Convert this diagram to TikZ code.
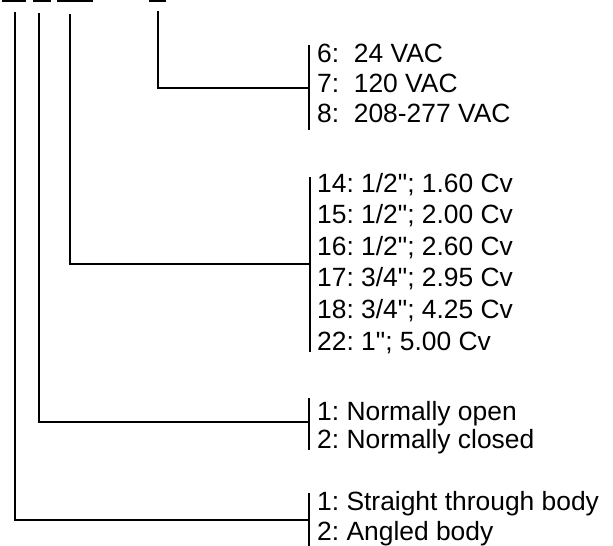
\documentclass[tikz,border=0pt]{standalone}
\usepackage{fontspec}
\setmainfont{Liberation Sans}
\frenchspacing
\newcommand{\inch}{\textquotedbl}
\begin{document}
\begin{tikzpicture}[x=1pt,y=-1pt,
  ln/.style={line width=2.5pt},
  lbl/.style={anchor=base west, inner sep=0pt, font=\fontsize{26.4}{30}\selectfont}]
\useasboundingbox (0,0) rectangle (613,546);
% top underlines
\draw[ln] (2,1) -- (26,1);
\draw[ln] (33,1) -- (51,1);
\draw[ln] (57,1) -- (93,1);
\draw[ln] (149,1) -- (166,1);
% leader tops
\coordinate (t1) at (15,12);
\coordinate (t2) at (39,13);
\coordinate (t3) at (70,14);
\coordinate (t4) at (158,11);
% voltage group
\coordinate (va) at (309,45);
\coordinate (vb) at (309,130);
\coordinate (vm) at (309,88);
\draw[ln] (va) -- (vb);
\node[lbl] (v6) at (317,62) {6:\ \ 24 VAC};
\node[lbl] (v7) at (317,92) {7:\ \ 120 VAC};
\node[lbl] (v8) at (317,122) {8:\ \ 208-277 VAC};
\draw[ln] (t4) |- (vm);
% size group
\coordinate (sa) at (310,177);
\coordinate (sb) at (310,352);
\coordinate (sm) at (310,264);
\draw[ln] (sa) -- (sb);
\node[lbl] (s14) at (317,192) {14: 1/2\inch; 1.60 Cv};
\node[lbl] (s15) at (317,223.6) {15: 1/2\inch; 2.00 Cv};
\node[lbl] (s16) at (317,255.2) {16: 1/2\inch; 2.60 Cv};
\node[lbl] (s17) at (317,286.8) {17: 3/4\inch; 2.95 Cv};
\node[lbl] (s18) at (317,318.4) {18: 3/4\inch; 4.25 Cv};
\node[lbl] (s22) at (317,350) {22: 1\inch; 5.00 Cv};
\draw[ln] (t3) |- (sm);
% normally group
\coordinate (na) at (309,398);
\coordinate (nb) at (309,450);
\coordinate (nm) at (309,422);
\draw[ln] (na) -- (nb);
\node[lbl] (n1) at (317,420) {1: Normally open};
\node[lbl] (n2) at (317,448) {2: Normally closed};
\draw[ln] (t2) |- (nm);
% body group
\coordinate (ba) at (309,493);
\coordinate (bb) at (309,546);
\coordinate (bm) at (309,520);
\draw[ln] (ba) -- (bb);
\node[lbl] (b1) at (317,510) {1: Straight through body};
\node[lbl] (b2) at (317,540) {2: Angled body};
\draw[ln] (t1) |- (bm);
\end{tikzpicture}
\end{document}
